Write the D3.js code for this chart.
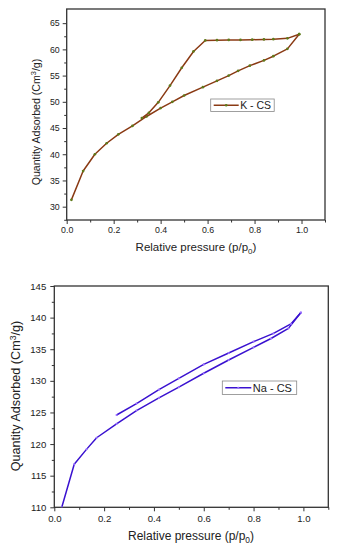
<!DOCTYPE html>
<html><head><meta charset="utf-8">
<script src="https://cdn.jsdelivr.net/npm/d3@7"></script>
<style>
body{margin:0;background:#fff;}
svg text{font-family:"Liberation Sans",Arial,sans-serif;fill:#222;}
</style></head>
<body><svg id="c" width="337" height="550"></svg>
<script>
// K-CS isotherm
const kAdsX = [0.02,0.07,0.12,0.17,0.22,0.28,0.34,0.40,0.45,0.50,0.58,0.64,0.69,0.73,0.78,0.84,0.88,0.94,0.99];
const kAdsY = [31.3,36.8,40.0,42.1,43.8,45.4,47.2,48.8,50.0,51.2,52.8,54.0,55.0,55.9,56.9,57.9,58.7,60.1,62.9];
const kDesX = [0.99,0.94,0.88,0.84,0.79,0.74,0.69,0.64,0.59,0.54,0.49,0.44,0.39,0.35,0.32];
const kDesY = [62.9,62.1,61.95,61.9,61.85,61.8,61.8,61.75,61.7,59.6,56.5,53.1,49.9,47.9,46.9];
// Na-CS isotherm
const naAdsX = [0.03,0.08,0.13,0.17,0.25,0.33,0.42,0.50,0.60,0.70,0.80,0.87,0.94,0.99];
const naAdsY = [110.0,116.8,119.2,121.0,123.2,125.3,127.3,129.0,131.2,133.3,135.3,136.7,138.3,140.8];
const naDesX = [0.99,0.95,0.88,0.80,0.70,0.60,0.50,0.42,0.33,0.25];
const naDesY = [140.8,139.0,137.5,136.2,134.4,132.6,130.4,128.6,126.4,124.6];
const xTicks = [0,0.2,0.4,0.6,0.8,1.0];
const xMinor = [0.1,0.3,0.5,0.7,0.9,1.1];
const kYTicks = [30,35,40,45,50,55,60,65];
const naYTicks = [110,115,120,125,130,135,140,145];

const svg = d3.select("#c");

function panel(cfg){
  const g = svg.append("g");
  const x = d3.scaleLinear().domain([0,1.1]).range([cfg.left,cfg.right]);
  const y = d3.scaleLinear().domain(cfg.yDom).range([cfg.bottom,cfg.top]);
  g.append("rect").attr("x",cfg.left).attr("y",cfg.top)
    .attr("width",cfg.right-cfg.left).attr("height",cfg.bottom-cfg.top)
    .attr("fill","none").attr("stroke","#333").attr("stroke-width",1.3);
  const fs = cfg.tickFs;
  const ax = g.append("g").attr("transform",`translate(0,${cfg.bottom})`)
    .call(d3.axisBottom(x).tickValues(xTicks).tickSize(4).tickPadding(cfg.xPad).tickFormat(d3.format(".1f")));
  const axm = g.append("g").attr("transform",`translate(0,${cfg.bottom})`)
    .call(d3.axisBottom(x).tickValues(xMinor).tickSize(2.5).tickFormat(""));
  const ay = g.append("g").attr("transform",`translate(${cfg.left},0)`)
    .call(d3.axisLeft(y).tickValues(cfg.yTicks).tickSize(4).tickPadding(cfg.yPad));
  const minorY = cfg.yTicks.slice(0,-1).map(v=>v+2.5).concat(cfg.yExtra);
  const aym = g.append("g").attr("transform",`translate(${cfg.left},0)`)
    .call(d3.axisLeft(y).tickValues(minorY).tickSize(2.5).tickFormat(""));
  [ax,axm,ay,aym].forEach(a=>{
    a.select(".domain").remove();
    a.selectAll("line").attr("stroke","#333").attr("stroke-width",1);
    a.selectAll("text").attr("font-size",fs).attr("font-family","Liberation Sans, Arial, sans-serif").attr("fill","#222");
  });
  const xl = g.append("text").attr("x",cfg.xLabX).attr("y",cfg.xLabY)
    .attr("text-anchor","middle").attr("font-size",cfg.labFs);
  xl.append("tspan").text("Relative pressure (p/p");
  xl.append("tspan").attr("font-size",cfg.labFs*0.7).attr("dy",3).text("0");
  xl.append("tspan").attr("dy",-3).text(")");
  const yl = g.append("text").attr("transform",`translate(${cfg.yLabX},${cfg.yLabY}) rotate(-90)`)
    .attr("text-anchor","middle").attr("font-size",cfg.yLabFs);
  yl.append("tspan").text("Quantity Adsorbed (Cm");
  yl.append("tspan").attr("font-size",cfg.yLabFs*0.7).attr("dy",-4).text("3");
  yl.append("tspan").attr("dy",4).text("/g)");
  const clipId = "clip"+cfg.id;
  g.append("clipPath").attr("id",clipId).append("rect")
    .attr("x",cfg.left).attr("y",cfg.top).attr("width",cfg.right-cfg.left).attr("height",cfg.bottom-cfg.top);
  const line = d3.line().x(d=>x(d[0])).y(d=>y(d[1]));
  const dg = g.append("g").attr("clip-path",`url(#${clipId})`);
  cfg.series.forEach(s=>{
    const pts = s.xs.map((v,i)=>[v,s.ys[i]]);
    dg.append("path").datum(pts).attr("d",line).attr("fill","none")
      .attr("stroke",cfg.color).attr("stroke-width",1.5).attr("stroke-linejoin","round");
    dg.selectAll(null).data(pts).enter().append("circle")
      .attr("cx",d=>x(d[0])).attr("cy",d=>y(d[1])).attr("r",cfg.mR).attr("fill",cfg.mColor);
  });
  const L = cfg.legend;
  g.append("rect").attr("x",L.x).attr("y",L.y).attr("width",L.w).attr("height",L.h)
    .attr("fill","#fff").attr("stroke","#888").attr("stroke-width",0.8);
  g.append("line").attr("x1",L.x+3).attr("x2",L.x+L.lineW).attr("y1",L.y+L.h/2).attr("y2",L.y+L.h/2)
    .attr("stroke",cfg.color).attr("stroke-width",1.5);
  g.append("circle").attr("cx",L.x+3+(L.lineW-3)/2).attr("cy",L.y+L.h/2).attr("r",cfg.mR).attr("fill",cfg.mColor);
  g.append("text").attr("x",L.x+L.lineW+1.5).attr("y",L.y+L.h/2+3.8).attr("font-size",L.fs).text(cfg.name);
}

panel({id:"k",left:66.7,right:325,top:9,bottom:220,yDom:[27.46,67.7],yTicks:kYTicks,yExtra:[27.5],
  tickFs:8.8,xPad:3,yPad:3,labFs:11.5,xLabX:196,xLabY:251,yLabFs:10.6,yLabX:40,yLabY:122,
  color:"#8a3a14",mColor:"#5f7a1a",mR:1.35,name:"K - CS",
  series:[{xs:kAdsX,ys:kAdsY},{xs:kDesX,ys:kDesY}],
  legend:{x:210.7,y:99,w:63.5,h:12.5,lineW:28,fs:10.5}});

panel({id:"na",left:54.3,right:328.3,top:286,bottom:507.3,yDom:[110,145],yTicks:naYTicks,yExtra:[],
  tickFs:9.6,xPad:4,yPad:4,labFs:12,xLabX:191,xLabY:540,yLabFs:12.6,yLabX:20,yLabY:396,
  color:"#3a12d0",mColor:"#9a70ff",mR:1.1,name:"Na - CS",
  series:[{xs:naAdsX,ys:naAdsY},{xs:naDesX,ys:naDesY}],
  legend:{x:222.3,y:381,w:74.4,h:13.5,lineW:29,fs:11}});
</script></body></html>
